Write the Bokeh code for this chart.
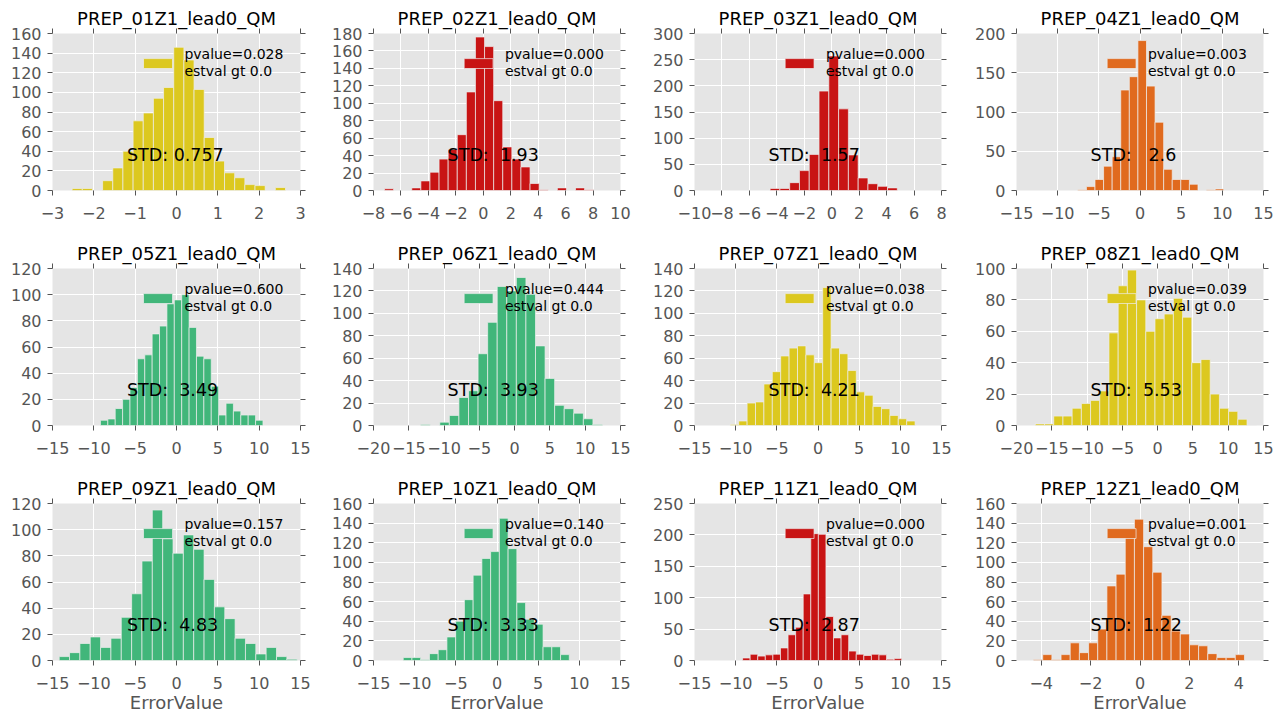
import numpy as np
from bokeh.plotting import figure
from bokeh.models import Range1d, LinearAxis, SingleIntervalTicker, CustomJSTickFormatter
from bokeh.layouts import gridplot
from bokeh.embed import file_html
from bokeh.resources import INLINE
from bokeh.core.properties import value

# ---------------- data ----------------
titles = ["PREP_01Z1_lead0_QM", "PREP_02Z1_lead0_QM", "PREP_03Z1_lead0_QM", "PREP_04Z1_lead0_QM",
          "PREP_05Z1_lead0_QM", "PREP_06Z1_lead0_QM", "PREP_07Z1_lead0_QM", "PREP_08Z1_lead0_QM",
          "PREP_09Z1_lead0_QM", "PREP_10Z1_lead0_QM", "PREP_11Z1_lead0_QM", "PREP_12Z1_lead0_QM"]
pvalues = [0.028, 0.000, 0.000, 0.003, 0.600, 0.444, 0.038, 0.039, 0.157, 0.140, 0.000, 0.001]
stds = [0.757, 1.93, 1.57, 2.6, 3.49, 3.93, 4.21, 5.53, 4.83, 3.33, 2.87, 1.22]

# histogram bin range (first edge, last edge) per panel
bin_lo = [-2.525, -7.20, -4.49, -7.55, -9.20, -13.32, -10.65, -17.33, -14.19, -11.39, -9.16, -4.31]
bin_hi = [2.637, 8.05, 4.78, 10.17, 10.46, 12.45, 11.79, 13.97, 14.60, 8.78, 10.17, 4.23]

c01 = [2, 2, 0, 10, 23, 40, 71, 79, 94, 105, 146, 133, 103, 54, 30, 18, 13, 6, 5, 0, 3]
c02 = [2, 0, 0, 3, 11, 21, 36, 47, 64, 113, 176, 165, 103, 50, 36, 27, 8, 1, 0, 3, 0, 3, 1]
c03 = [4, 4, 15, 38, 69, 190, 257, 156, 68, 24, 13, 8, 5]
c04 = [1, 5, 14, 31, 43, 128, 145, 191, 133, 87, 27, 14, 14, 8, 0, 1, 2]
c05 = [4, 5, 13, 20, 29, 51, 54, 70, 76, 93, 96, 100, 75, 53, 51, 30, 8, 17, 11, 8, 8, 4]
c06 = [1, 0, 3, 9, 25, 31, 64, 92, 124, 120, 132, 117, 71, 42, 18, 15, 11, 6, 1]
c07 = [1, 4, 20, 21, 37, 48, 62, 69, 71, 63, 56, 123, 69, 64, 49, 30, 27, 17, 15, 9, 6, 4]
c08 = [1, 1, 6, 6, 11, 14, 16, 22, 59, 89, 99, 80, 60, 68, 71, 81, 69, 40, 42, 20, 11, 9, 4, 0]
c09 = [3, 6, 13, 18, 10, 17, 33, 51, 76, 115, 93, 82, 96, 85, 62, 41, 32, 17, 13, 5, 10, 3, 1]
c10 = [3, 3, 1, 7, 11, 24, 40, 62, 87, 104, 111, 145, 114, 59, 42, 37, 14, 14, 6]
c11 = [4, 10, 7, 9, 10, 20, 41, 53, 106, 202, 201, 70, 36, 41, 15, 10, 8, 10, 9, 2, 3]
c12 = [1, 6, 1, 6, 18, 8, 18, 32, 76, 88, 126, 144, 116, 90, 46, 30, 27, 16, 15, 7, 3, 3, 6]
counts = [c01, c02, c03, c04, c05, c06, c07, c08, c09, c10, c11, c12]

x_limits = [(-3, 3), (-8, 10), (-10, 8), (-15, 15), (-15, 15), (-20, 15),
            (-15, 15), (-20, 15), (-15, 15), (-15, 15), (-15, 15), (-5, 5)]
x_steps = [1, 2, 2, 5, 5, 5, 5, 5, 5, 5, 5, 2]
y_max = [160, 180, 300, 200, 120, 140, 140, 100, 120, 160, 250, 160]
y_steps = [20, 20, 50, 50, 20, 20, 20, 20, 20, 20, 50, 20]

YELLOW, RED, ORANGE, GREEN = "#DCC81F", "#C81414", "#E06A1E", "#41B67A"
colors = [YELLOW, RED, RED, ORANGE, GREEN, GREEN, YELLOW, YELLOW, GREEN, GREEN, RED, ORANGE]

# ---------------- layout ----------------
FONT = "DejaVu Sans"
GREY = "#555555"
NBSP = "\u00a0"
col_w = [328, 321, 322, 304]
col_left = [52, 44, 44, 44]
col_right = [28, 29, 30, 12]
row_h = [235, 235, 246]
row_bottom = [45, 45, 56]

minus_fmt = "return tick < 0 ? '\\u2212' + (-tick) : '' + tick;"


def style_axis(ax, show_labels=True):
    ax.axis_line_color = None
    ax.major_tick_line_color = GREY
    ax.major_tick_out = 5
    ax.major_tick_in = 0
    ax.minor_tick_line_color = None
    ax.major_label_text_font = FONT
    if show_labels:
        ax.major_label_text_color = GREY
        ax.major_label_text_font_size = "16px"
        ax.formatter = CustomJSTickFormatter(code=minus_fmt)
    else:
        ax.major_label_text_color = None
        ax.major_label_text_font_size = "1px"
        ax.major_label_standoff = 0


figs = []
for i in range(12):
    r, c = divmod(i, 4)
    x0, x1 = x_limits[i]
    ym = y_max[i]
    p = figure(width=col_w[c], height=row_h[r],
               x_range=Range1d(x0, x1), y_range=Range1d(0, ym),
               output_backend="svg", toolbar_location=None, tools="",
               min_border_left=col_left[c], min_border_right=col_right[c],
               min_border_top=33, min_border_bottom=row_bottom[r],
               background_fill_color="#E5E5E5", border_fill_color="white",
               outline_line_color=None)
    p.title.text = titles[i]
    p.title.align = "center"
    p.title.text_font = FONT
    p.title.text_font_size = "18px"
    p.title.text_font_style = "normal"
    p.title.text_color = "black"
    p.title.standoff = 0
    p.title.offset = 0

    xt = SingleIntervalTicker(interval=x_steps[i])
    yt = SingleIntervalTicker(interval=y_steps[i])
    xb = p.xaxis[0]
    yl = p.yaxis[0]
    xb.ticker = xt
    yl.ticker = yt
    style_axis(xb)
    style_axis(yl)
    xb.major_label_standoff = 11
    yl.major_label_standoff = 6

    if r == 2:
        xb.axis_label = "ErrorValue"
        xb.axis_label_text_font = FONT
        xb.axis_label_text_font_size = "18px"
        xb.axis_label_text_font_style = "normal"
        xb.axis_label_text_color = GREY
        xb.axis_label_standoff = 0

    top = LinearAxis(ticker=xt)
    style_axis(top, show_labels=False)
    p.add_layout(top, "above")
    right = LinearAxis(ticker=yt)
    style_axis(right, show_labels=False)
    p.add_layout(right, "right")

    p.grid.grid_line_color = "white"
    p.grid.grid_line_width = 1
    p.xgrid.ticker = xt
    p.ygrid.ticker = yt

    cnt = np.array(counts[i], dtype=float)
    edges = np.linspace(bin_lo[i], bin_hi[i], len(cnt) + 1)
    p.quad(left=edges[:-1], right=edges[1:], bottom=0, top=cnt,
           fill_color=colors[i], line_color="#EEEEEE", line_width=0.7)

    # STD annotation; padding spaces kept as no-break spaces
    num = "%5.3g" % stds[i]
    label = "STD:" + NBSP * (len(num) - len(num.lstrip()) + 1) + num.strip()
    w = x1 - x0
    p.text(x=[x0 + 0.30 * w], y=[0.228 * ym], text=[label],
           text_font=value(FONT), text_font_size="17.5px", text_color="black",
           text_baseline="alphabetic", text_align="left")

    # legend (patch + two lines of text), positioned by axes fraction
    p.quad(left=[x0 + 0.367 * w], right=[x0 + 0.484 * w],
           bottom=[0.777 * ym], top=[0.840 * ym],
           fill_color=colors[i], line_color="#EEEEEE", line_width=0.7)
    p.text(x=[x0 + 0.532 * w, x0 + 0.532 * w], y=[0.870 * ym, 0.762 * ym],
           text=["pvalue=%.3f" % pvalues[i], "estval gt 0.0"],
           text_font=value(FONT), text_font_size="14px", text_color="black",
           text_baseline="middle", text_align="left")
    figs.append(p)

grid = gridplot([figs[0:4], figs[4:8], figs[8:12]], toolbar_location=None)
open("out.html", "w").write(file_html(grid, INLINE))
